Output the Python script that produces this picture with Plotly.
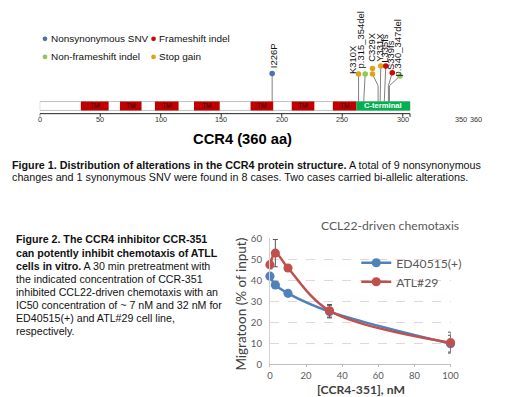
import plotly.graph_objects as go

# reference canvas (all pixel positions below are in reference pixels)
W, H = 520, 397
# the photographed viewport shows ~0.985 of CSS pixels -> render slightly larger
OUT_W, OUT_H = 528, 403
FS = (OUT_W / W + OUT_H / H) / 2

# ---------------- Data: CCR4 protein (Figure 1) ----------------
protein_len = 360
tm_start = [40, 78, 112, 150, 205, 245, 285]
tm_end = [67, 99, 135, 175, 227, 267, 308]
cterm_range = [308, 360]
mut_labels = ["I226P", "K310X", "p.315_354del", "C329X", "Y331X", "L335fs", "S339fs", "p.340_347del"]
mut_pos = [226, 310, 315, 329, 331, 335, 339, 340]
mut_type = ["Nonsynonymous SNV", "Stop gain", "Non-frameshift indel", "Stop gain",
            "Stop gain", "Frameshift indel", "Frameshift indel", "Non-frameshift indel"]
mut_count = [1, 1, 1, 2, 1, 1, 1, 1]
type_names = ["Nonsynonymous SNV", "Frameshift indel", "Non-frameshift indel", "Stop gain"]
axis_tick_vals = [0, 50, 100, 150, 200, 250, 300]
extra_tick_vals = [350, 360]

# ---------------- Data: chemotaxis (Figure 2) ----------------
conc_nM = [0, 3, 10, 33, 100]
ed_mean = [42.0, 37.8, 33.8, 25.1, 9.8]
ed_err = [1.0, 1.6, 0.6, 3.0, 4.0]
atl_mean = [47.5, 53.0, 45.9, 25.5, 10.3]
atl_err = [2.0, 6.5, 0.8, 3.0, 5.0]
conc_ticks = [0, 20, 40, 60, 80, 100]

# ---------------- Styles / layout helpers ----------------
type_colors = {"Nonsynonymous SNV": "#4a72b2", "Frameshift indel": "#cc0a0a",
               "Non-frameshift indel": "#8cc85a", "Stop gain": "#dca516"}
DRAW_SCALE = 0.85          # protein drawn compressed along the ruler
X0_PX, X1_PX = 37, 476     # ruler 0..360 in reference pixels
XU = 360 / (X1_PX - X0_PX)  # ruler units per pixel
BAR_H = 9
STEM = 28
HEAD_GAP = 5.5
AXIS_Y = -3.3
head_dx = [0, 0, 1.5, -5.7, 0.6, 1.5, 3.9, 10.6]
head_dy = [0.5, 0, 0, 0, 8, 8, 1.3, -2]
lab_dx = [1, -6.7, -4.6, -0.6, -0.7, -0.7, -2.3, -2.7]
lab_dy = [4, -0.6, 4.7, 5.8, 3, 2, 1.7, -1.7]
tick_label_dx = {350: -2, 360: 0.7}

SANS = "Liberation Sans, Arial, sans-serif"
XL = "Lato, Calibri, sans-serif"

fig = go.Figure()

# ---- lollipops ----
for i, lab in enumerate(mut_labels):
    xb = mut_pos[i] * DRAW_SCALE
    xh = xb + head_dx[i] * XU
    yh = BAR_H + STEM + head_dy[i]
    if abs(head_dx[i]) > 2:
        xs, ys = [xb, xb, xh], [BAR_H, BAR_H + 16, yh]
    else:
        xs, ys = [xb, xh], [BAR_H, yh]
    fig.add_trace(go.Scatter(x=xs, y=ys, mode="lines", line=dict(color="#808080", width=1),
                             showlegend=False, hoverinfo="skip", xaxis="x", yaxis="y"))
    heads_y = [yh + HEAD_GAP * k for k in range(mut_count[i])]
    fig.add_trace(go.Scatter(x=[xh] * mut_count[i], y=heads_y, mode="markers",
                             marker=dict(size=5.5 * FS, color=type_colors[mut_type[i]]),
                             showlegend=False, name=lab, xaxis="x", yaxis="y"))
    fig.add_annotation(x=xh + lab_dx[i] * XU, y=heads_y[-1] + lab_dy[i], xref="x", yref="y",
                       text=lab, textangle=-90, showarrow=False, xanchor="center", yanchor="bottom",
                       font=dict(family=SANS, size=9.3 * FS, color="#111"), borderpad=0)

# ---- protein bar ----
bar_end = protein_len * DRAW_SCALE
fig.add_shape(type="rect", xref="x", yref="y", x0=0, x1=bar_end, y0=0, y1=BAR_H,
              fillcolor="white", line=dict(color="#c0c0c0", width=1), layer="below")
for s, e in zip(tm_start, tm_end):
    fig.add_shape(type="rect", xref="x", yref="y", x0=s * DRAW_SCALE, x1=e * DRAW_SCALE,
                  y0=0, y1=BAR_H, fillcolor="#c00000", line=dict(width=0))
    fig.add_annotation(x=(s + e) / 2 * DRAW_SCALE, y=BAR_H / 2, xref="x", yref="y", text="TM",
                       showarrow=False, font=dict(family=SANS, size=6.5 * FS, color="#2a0000"))
fig.add_shape(type="rect", xref="x", yref="y", x0=cterm_range[0] * DRAW_SCALE,
              x1=cterm_range[1] * DRAW_SCALE, y0=0, y1=BAR_H, fillcolor="#00b050", line=dict(width=0))
fig.add_annotation(x=sum(cterm_range) / 2 * DRAW_SCALE, y=BAR_H / 2, xref="x", yref="y",
                   text="<b>C-terminal</b>", showarrow=False,
                   font=dict(family=SANS, size=7.5 * FS, color="white"))

# ---- ruler: line, tick marks, labels ----
fig.add_shape(type="line", xref="x", yref="y", x0=0, x1=bar_end, y0=AXIS_Y, y1=AXIS_Y,
              line=dict(color="#222", width=1))
for v in axis_tick_vals + [bar_end]:
    fig.add_shape(type="line", xref="x", yref="y", x0=v, x1=v, y0=AXIS_Y, y1=AXIS_Y - 3.2,
                  line=dict(color="#222", width=1))
for v in axis_tick_vals + extra_tick_vals:
    fig.add_annotation(x=v, y=AXIS_Y, xref="x", yref="y", text=str(v), showarrow=False,
                       yanchor="top", yshift=0, xshift=tick_label_dx.get(v, 0) * FS, borderpad=0,
                       font=dict(family=SANS, size=7.2 * FS, color="#333"))

# ---- top legend ----
leg_pos = [(42.3, 32.3), (151.7, 32.3), (42.3, 50.7), (151.7, 50.7)]
for name, (lx, ly) in zip(type_names, leg_pos):
    fig.add_shape(type="circle", xref="paper", yref="paper",
                  x0=(lx - 2.4) / W, x1=(lx + 2.4) / W, y0=1 - (ly + 2.4) / H, y1=1 - (ly - 2.4) / H,
                  fillcolor=type_colors[name], line=dict(width=0))
    fig.add_annotation(x=(lx + 5) / W, y=1 - ly / H, xref="paper", yref="paper", text=name,
                       showarrow=False, xanchor="left", yanchor="middle", borderpad=0,
                       font=dict(family=SANS, size=9.8 * FS, color="#111"))

# ---- chemotaxis lines ----
fig.add_trace(go.Scatter(x=conc_nM, y=ed_mean, name="ED40515(+)", mode="lines+markers",
                         line=dict(color="#4f81bd", width=2.5 * FS, shape="spline"),
                         marker=dict(size=9 * FS, color="#4f81bd"),
                         error_y=dict(type="data", array=ed_err, color="#555", thickness=1, width=2.5),
                         xaxis="x2", yaxis="y2", legend="legend2", cliponaxis=False))
fig.add_trace(go.Scatter(x=conc_nM, y=atl_mean, name="ATL#29", mode="lines+markers",
                         line=dict(color="#c0504d", width=2.5 * FS, shape="spline"),
                         marker=dict(size=9 * FS, color="#c0504d"),
                         error_y=dict(type="data", array=atl_err, color="#555", thickness=1, width=2.5),
                         xaxis="x2", yaxis="y2", legend="legend2", cliponaxis=False))

# ---- text ----
def ann(x, y, text, size, family=SANS, color="#111", xanchor="left", **kw):
    fig.add_annotation(x=x / W, y=1 - y / H, xref="paper", yref="paper", text=text, showarrow=False,
                       xanchor=xanchor, yanchor="middle",
                       font=dict(family=family, size=size * FS, color=color), borderpad=0, **kw)

ann(241.7, 134.3, "<b>CCR4 (360 aa)</b>", 14.5, xanchor="center", color="#000")
ann(8.5, 160, "<b>Figure 1. Distribution of alterations in the CCR4 protein structure.</b> A total of 9 nonsynonymous", 10.6)
ann(8.5, 172.3, "changes and 1 synonymous SNV were found in 8 cases. Two cases carried bi-allelic alterations.", 10.6)

fig2_lines = [
    "<b>Figure 2. The CCR4 inhibitor CCR-351</b>",
    "<b>can potently inhibit chemotaxis of ATLL</b>",
    "<b>cells in vitro.</b> A 30 min pretreatment with",
    "the indicated concentration of CCR-351",
    "inhibited CCL22-driven chemotaxis with an",
    "IC50 concentration of ~ 7 nM and 32 nM for",
    "ED40515(+) and ATL#29 cell line,",
    "respectively.",
]
for k, t in enumerate(fig2_lines):
    ann(12.2, 236 + 13.33 * k, t, 10.5)

ann(390, 222, "CCL22-driven chemotaxis", 12, family=XL, color="#595959", xanchor="center")
ann(240, 302, "Migratoon (% of input)", 13.3, family=XL, color="#404040", xanchor="center", textangle=-90)
ann(360.7, 388.6, "<b>[CCR4-351], nM</b>", 12, family=XL, color="#404040", xanchor="center")

fig.update_layout(
    width=OUT_W, height=OUT_H, margin=dict(l=0, r=0, t=0, b=0),
    paper_bgcolor="white", plot_bgcolor="rgba(0,0,0,0)",
    showlegend=True,
    xaxis=dict(domain=[X0_PX / W, X1_PX / W], range=[0, 360], anchor="y", visible=False,
               showgrid=False, zeroline=False, fixedrange=True),
    yaxis=dict(domain=[1 - 113 / H, 1], range=[-8, 105], anchor="x", visible=False, fixedrange=True),
    xaxis2=dict(domain=[269 / W, 451 / W], range=[0, 100], anchor="y2", tickvals=conc_ticks,
                ticks="outside", ticklen=2, tickcolor="#bfbfbf", showline=True, linecolor="#bfbfbf",
                linewidth=1, showgrid=False, zeroline=False,
                tickfont=dict(family=XL, size=9.3 * FS, color="#595959")),
    yaxis2=dict(domain=[1 - 362.7 / H, 1 - 235 / H], range=[0, 60], dtick=10, anchor="x2",
                ticks="outside", ticklen=5, tickcolor="rgba(0,0,0,0)", showline=True, linecolor="#d0d0d0",
                showgrid=True, gridcolor="#ecd2d2", griddash="dash", gridwidth=1, zeroline=False,
                tickfont=dict(family=XL, size=9.5 * FS, color="#595959")),
    legend2=dict(x=356 / W, y=1 - 245 / H, xanchor="left", yanchor="top", bgcolor="rgba(0,0,0,0)",
                 font=dict(family=XL, size=12 * FS, color="#595959"), itemwidth=30, tracegroupgap=0),
)

fig.write_html("out.html", config={"displayModeBar": False},
               post_script="document.body.style.margin='0';document.body.style.overflow='hidden';")
